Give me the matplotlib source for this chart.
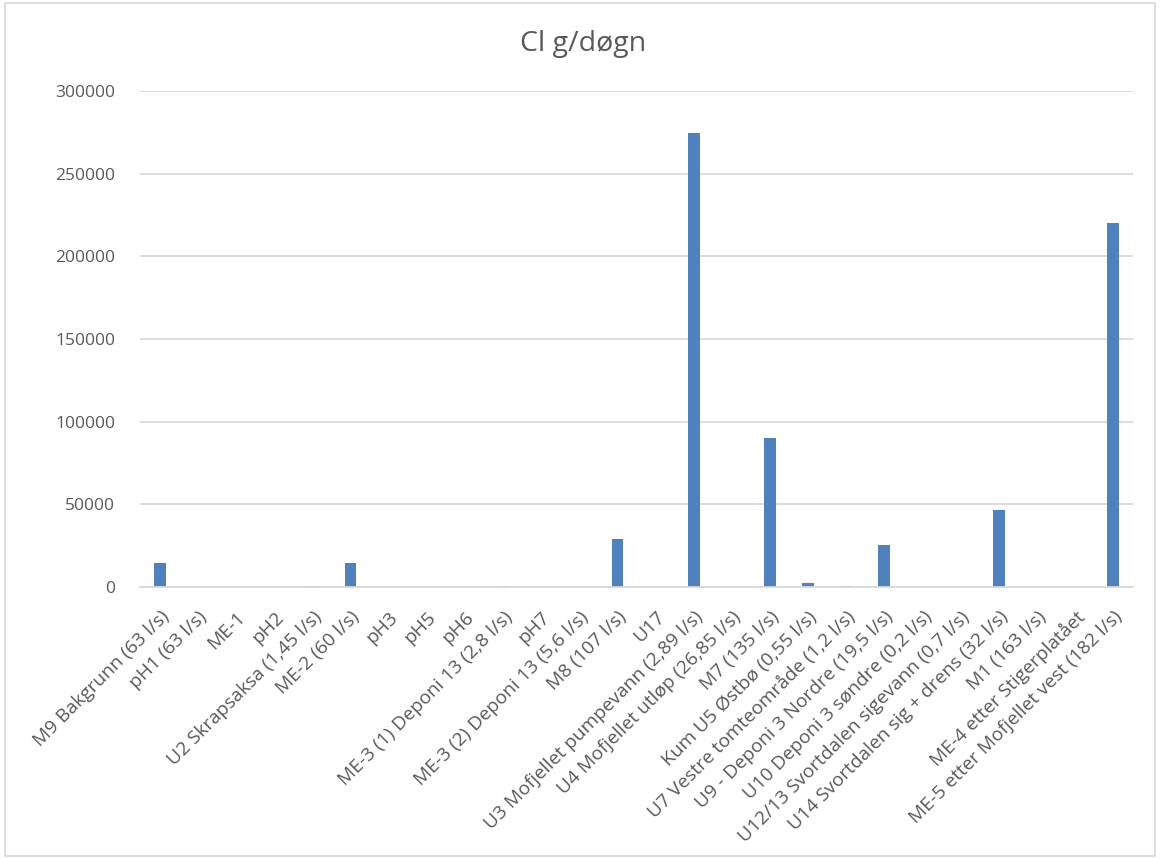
import matplotlib
matplotlib.use("Agg")
import matplotlib.pyplot as plt
from matplotlib.patches import Rectangle

categories = [
    "M9 Bakgrunn (63 l/s)", "pH1 (63 l/s)", "ME-1", "pH2",
    "U2 Skrapsaksa (1,45 l/s)", "ME-2 (60 l/s)", "pH3", "pH5", "pH6",
    "ME-3 (1) Deponi 13 (2,8 l/s)", "pH7", "ME-3 (2) Deponi 13 (5,6 l/s)",
    "M8 (107 l/s)", "U17", "U3 Mofjellet pumpevann (2,89 l/s)",
    "U4 Mofjellet utløp (26,85 l/s)", "M7 (135 l/s)",
    "Kum U5 Østbø (0,55 l/s)", "U7 Vestre tomteområde (1,2 l/s)",
    "U9 - Deponi 3 Nordre (19,5 l/s)", "U10 Deponi 3 søndre (0,2 l/s)",
    "U12/13 Svortdalen sigevann (0,7 l/s)", "U14 Svortdalen sig + drens (32 l/s)",
    "M1 (163 l/s)", "ME-4 etter Stigerplatået", "ME-5 etter Mofjellet vest (182 l/s)",
]
cl_g_per_dogn = [
    14700, 0, 0, 0, 300, 14500, 0, 0, 0, 400, 0, 0,
    29200, 0, 274800, 0, 89900, 2600, 300, 25100, 200, 200, 46800,
    0, 0, 220300,
]
yticks = [0, 50000, 100000, 150000, 200000, 250000, 300000]

plt.rcParams['font.family'] = ['Open Sans', 'DejaVu Sans']
fig = plt.figure(figsize=(11.6, 8.59), dpi=100)
ax = fig.add_axes([0.1207, 0.3167, 0.856, 0.5773])

x = list(range(len(categories)))
ax.bar(x, cl_g_per_dogn, width=0.31, color="#4f81bd", zorder=3)
ax.set_xlim(-0.52, len(categories) - 0.48)
ax.set_ylim(0, 300000)
ax.set_yticks(yticks)
ax.set_yticklabels([str(v) for v in yticks], fontsize=12.5, color="#595959")
ax.yaxis.grid(True, color="#d9d9d9", linewidth=1.3, zorder=0)
ax.set_xticks(x)
ax.set_xticklabels(categories, rotation=45, ha="right", va="top",
                   rotation_mode="anchor", fontsize=13.8, color="#595959")
ax.tick_params(axis="both", length=0)
ax.tick_params(axis="y", pad=18)
ax.tick_params(axis="x", pad=15)
for s in ["top", "right", "left"]:
    ax.spines[s].set_visible(False)
ax.spines["bottom"].set_color("#d9d9d9")
ax.spines["bottom"].set_linewidth(1.3)
ax.spines["bottom"].set_zorder(4)

fig.text(0.503, 0.949, "Cl g/døgn", ha="center", va="center",
         fontsize=20.5, color="#595959")
fig.patches.append(Rectangle((0.004, 0.003), 0.992, 0.994, transform=fig.transFigure,
                             fill=False, edgecolor="#d9d9d9", linewidth=1.2))

fig.savefig("out.png", dpi=100)
